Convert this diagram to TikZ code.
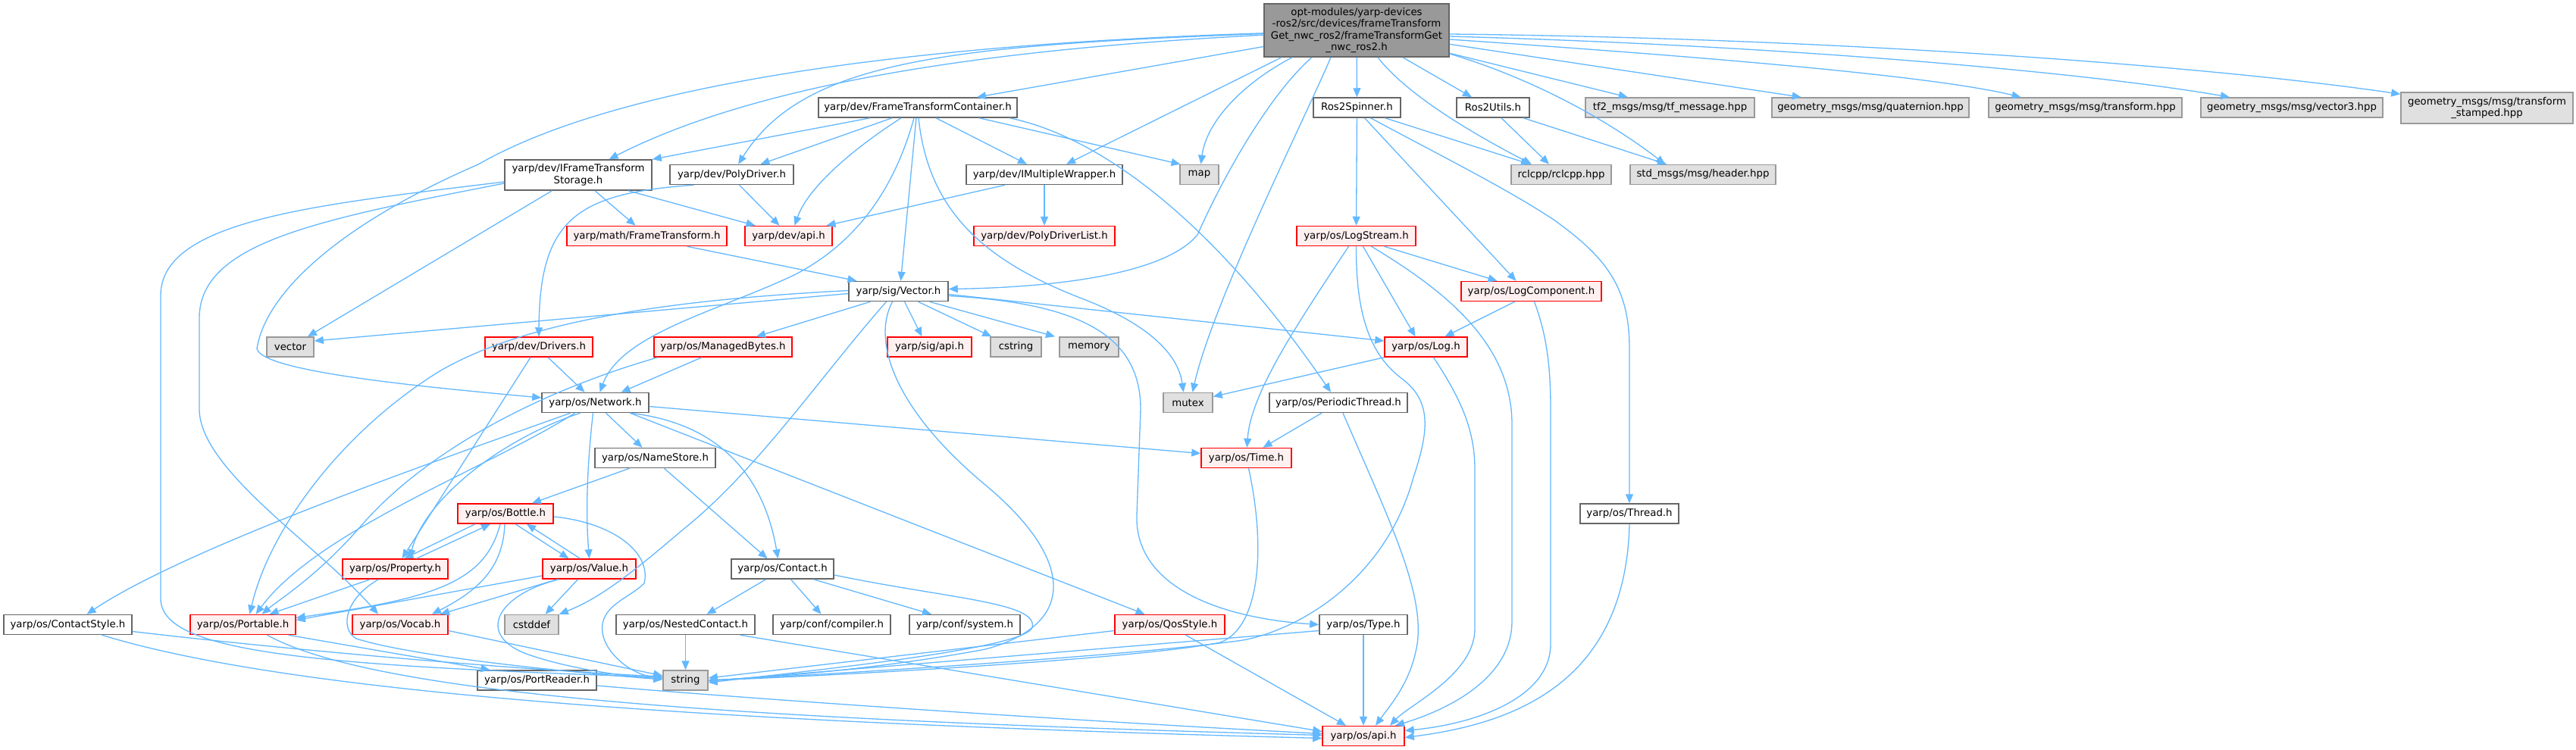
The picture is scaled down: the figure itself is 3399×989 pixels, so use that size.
\documentclass[tikz,border=0pt]{standalone}
\usepackage{fontspec}
\setmainfont{DejaVu Sans}
\usetikzlibrary{arrows.meta}
\definecolor{edgec}{HTML}{63B8FF}
\definecolor{nborder}{HTML}{666666}
\definecolor{gborder}{HTML}{999999}
\definecolor{gfill}{HTML}{E0E0E0}
\definecolor{rfill}{HTML}{FFF0F0}
\definecolor{rborder}{HTML}{FF0000}
\definecolor{mfill}{HTML}{999999}
\begin{document}
\begin{tikzpicture}[x=1pt,y=-1pt,
  nbox/.style={draw=nborder, fill=white, line width=1.5pt, inner sep=1pt, minimum height=26pt, font=\fontsize{13.3}{15.5}\selectfont, align=center, text=black},
  redbox/.style={nbox, draw=rborder, fill=rfill},
  sysbox/.style={nbox, draw=gborder, fill=gfill},
  mainbox/.style={nbox, fill=mfill},
  conn/.style={draw=edgec, line width=1.3pt, arrows={-Triangle[length=12pt,width=10pt]}},
]
\fill[white] (0,0) rectangle (3399,989);
\useasboundingbox (0,0) rectangle (3399,989);

% ---------- nodes ----------
\node[mainbox, minimum width=244pt, minimum height=70pt] (main) at (1790,40) {opt-modules/yarp-devices\\-ros2/src/devices/frameTransform\\Get\_nwc\_ros2/frameTransformGet\\\_nwc\_ros2.h};
\node[nbox, minimum width=262pt] (FTC) at (1211,142) {yarp/dev/FrameTransformContainer.h};
\node[nbox, minimum width=115pt] (R2S) at (1790.5,142) {Ros2Spinner.h};
\node[nbox, minimum width=96pt] (R2U) at (1970,142) {Ros2Utils.h};
\node[sysbox, minimum width=223pt] (tf2) at (2203.5,142) {tf2\_msgs/msg/tf\_message.hpp};
\node[sysbox, minimum width=260pt] (quat) at (2468,142) {geometry\_msgs/msg/quaternion.hpp};
\node[sysbox, minimum width=255pt] (gtr) at (2751.5,142) {geometry\_msgs/msg/transform.hpp};
\node[sysbox, minimum width=240pt] (v3) at (3024,142) {geometry\_msgs/msg/vector3.hpp};
\node[sysbox, minimum width=227pt, minimum height=41pt] (tst) at (3281.5,142.5) {geometry\_msgs/msg/transform\\\_stamped.hpp};
\node[nbox, minimum width=194pt, minimum height=40pt] (IFTS) at (763,231) {yarp/dev/IFrameTransform\\Storage.h};
\node[nbox, minimum width=163pt] (PD) at (965.5,230.5) {yarp/dev/PolyDriver.h};
\node[nbox, minimum width=206pt] (IMW) at (1378,230.5) {yarp/dev/IMultipleWrapper.h};
\node[sysbox, minimum width=51pt] (map) at (1582.5,230.5) {map};
\node[sysbox, minimum width=132pt] (rcl) at (2060,230.5) {rclcpp/rclcpp.hpp};
\node[sysbox, minimum width=192pt] (hdr) at (2247,230.5) {std\_msgs/msg/header.hpp};
\node[redbox, minimum width=211pt] (mft) at (853.5,311.5) {yarp/math/FrameTransform.h};
\node[redbox, minimum width=115pt] (dapi) at (1040.5,311.5) {yarp/dev/api.h};
\node[redbox, minimum width=186pt] (pdl) at (1378,311.5) {yarp/dev/PolyDriverList.h};
\node[redbox, minimum width=157pt] (lgs) at (1789.5,311.5) {yarp/os/LogStream.h};
\node[nbox, minimum width=131pt] (vec) at (1185.5,384.5) {yarp/sig/Vector.h};
\node[redbox, minimum width=185pt] (lgc) at (2020.5,384.5) {yarp/os/LogComponent.h};
\node[sysbox, minimum width=62pt] (stdvec) at (383,458) {vector};
\node[redbox, minimum width=142pt] (drv) at (711,458) {yarp/dev/Drivers.h};
\node[redbox, minimum width=182pt] (mb) at (954,458) {yarp/os/ManagedBytes.h};
\node[redbox, minimum width=111pt] (sapi) at (1226.5,458) {yarp/sig/api.h};
\node[sysbox, minimum width=67pt] (cstr) at (1340.5,458) {cstring};
\node[sysbox, minimum width=78pt] (mem) at (1437,458) {memory};
\node[redbox, minimum width=109pt] (log) at (1881.5,458) {yarp/os/Log.h};
\node[nbox, minimum width=141pt] (net) at (785.5,531.5) {yarp/os/Network.h};
\node[sysbox, minimum width=65pt] (mtx) at (1567.5,531.5) {mutex};
\node[nbox, minimum width=182pt] (pth) at (1766,531.5) {yarp/os/PeriodicThread.h};
\node[nbox, minimum width=159pt] (ns) at (864.5,604.5) {yarp/os/NameStore.h};
\node[redbox, minimum width=119pt] (time) at (1644.5,604.5) {yarp/os/Time.h};
\node[redbox, minimum width=126pt] (btl) at (667,678) {yarp/os/Bottle.h};
\node[nbox, minimum width=130pt] (thr) at (2150,678) {yarp/os/Thread.h};
\node[redbox, minimum width=139pt] (prop) at (521.5,751) {yarp/os/Property.h};
\node[redbox, minimum width=123pt] (val) at (777.5,751) {yarp/os/Value.h};
\node[nbox, minimum width=135pt] (ctc) at (1032.5,751) {yarp/os/Contact.h};
\node[nbox, minimum width=169pt] (cst) at (89.5,824.5) {yarp/os/ContactStyle.h};
\node[redbox, minimum width=139pt] (port) at (320.5,824.5) {yarp/os/Portable.h};
\node[redbox, minimum width=126pt] (voc) at (528,824.5) {yarp/os/Vocab.h};
\node[sysbox, minimum width=71pt] (cdf) at (701.5,824.5) {cstddef};
\node[nbox, minimum width=183pt] (nct) at (904.5,824.5) {yarp/os/NestedContact.h};
\node[nbox, minimum width=155pt] (cmp) at (1097.5,824.5) {yarp/conf/compiler.h};
\node[nbox, minimum width=146pt] (sys) at (1273,824.5) {yarp/conf/system.h};
\node[redbox, minimum width=145pt] (qos) at (1543.5,824.5) {yarp/os/QosStyle.h};
\node[nbox, minimum width=116pt] (type) at (1799,824.5) {yarp/os/Type.h};
\node[nbox, minimum width=157pt] (prd) at (708.5,898) {yarp/os/PortReader.h};
\node[sysbox, minimum width=59pt] (str) at (904.5,898) {string};
\node[redbox, minimum width=108pt] (oapi) at (1799,971.5) {yarp/os/api.h};

% ---------- edges ----------
% main
\draw[conn] (main) -- (FTC);
\draw[conn] (main) .. controls (1300,65) and (1000,110) .. (IFTS);
\draw[conn] (main) .. controls (1150,60) and (800,120) .. (631,217) .. controls (440,300) and (350,390) .. (339,460) .. controls (344,490) and (550,510) .. (net);
\draw[conn] (main) .. controls (1250,60) and (1060,80) .. (PD);
\draw[conn] ([xshift=-99pt]main.south) -- ([xshift=29pt]IMW.north);
\draw[conn] ([xshift=-85pt]main.south) .. controls (1640,110) and (1592,160) .. ([xshift=2pt]map.north);
\draw[conn] ([xshift=-59pt]main.south) .. controls (1680,120) and (1620,220) .. (1580,310) .. controls (1530,370) and (1350,380) .. ([yshift=3pt]vec.east);
\draw[conn] ([xshift=-34pt]main.south) .. controls (1720,160) and (1600,400) .. ([xshift=6pt]mtx.north);
\draw[conn] (main) -- (R2S);
\draw[conn] ([xshift=61pt]main.south) -- ([xshift=-28pt]R2U.north);
\draw[conn] ([xshift=28pt]main.south) .. controls (1860,130) and (1960,185) .. ([xshift=-39pt]rcl.north);
\draw[conn] ([yshift=-31pt]main.east) .. controls (2010,100) and (2110,150) .. ([xshift=-50pt]hdr.north);
\draw[conn] (main) -- (tf2);
\draw[conn] (main) -- (quat);
\draw[conn] ([yshift=-12pt]main.east) .. controls (2250,75) and (2550,100) .. ([xshift=-85pt]gtr.north);
\draw[conn] ([yshift=-8pt]main.east) .. controls (2350,60) and (2750,95) .. ([xshift=-82pt]v3.north);
\draw[conn] ([yshift=-5pt]main.east) .. controls (2400,50) and (2900,85) .. ([yshift=-3pt]tst.north west);
% FTC
\draw[conn] ([xshift=-63pt]FTC.south) -- (IFTS.north east);
\draw[conn] ([xshift=-34pt]FTC.south) -- ([xshift=38pt]PD.north);
\draw[conn] ([xshift=-22pt]FTC.south) .. controls (1120,200) and (1065,250) .. ([xshift=8pt]dapi.north);
\draw[conn] ([xshift=-5pt]FTC.south) .. controls (1180,250) and (1130,320) .. (1050,362) .. controls (950,410) and (820,440) .. ([xshift=6pt]net.north);
\draw[conn] ([xshift=-2pt]FTC.south) -- ([xshift=3pt]vec.north);
\draw[conn] ([xshift=1pt]FTC.south) .. controls (1225,280) and (1300,345) .. (1430,395) .. controls (1520,430) and (1555,470) .. ([xshift=-6pt]mtx.north);
\draw[conn] ([xshift=24pt]FTC.south) -- ([xshift=-23pt]IMW.north);
\draw[conn] ([xshift=81pt]FTC.south) -- ([xshift=-25pt]map.north);
\draw[conn] ([xshift=121pt]FTC.south) .. controls (1450,180) and (1600,290) .. ([xshift=-10pt]pth.north);
% IFTS
\draw[conn] (IFTS) -- (stdvec);
\draw[conn] ([xshift=22pt]IFTS.south) -- ([xshift=-15pt]mft.north);
\draw[conn] ([xshift=66pt]IFTS.south) -- ([xshift=-44pt]dapi.north);
\draw[conn] ([yshift=-9pt]IFTS.west) .. controls (420,270) and (212,290) .. (212,390) -- (212,790) .. controls (212,860) and (400,878) .. ([yshift=4pt]str.west);
\draw[conn] ([yshift=-11pt]IFTS.west) .. controls (420,290) and (263,320) .. (263,420) -- (263,540) .. controls (263,620) and (420,720) .. ([xshift=-29pt]voc.north);
% PolyDriver
\draw[conn] ([xshift=10pt]PD.south) -- ([xshift=-12pt]dapi.north);
\draw[conn] ([xshift=-50pt]PD.south) .. controls (760,255) and (712,290) .. (drv.north);
% IMultipleWrapper
\draw[conn] ([xshift=-52pt]IMW.south) -- ([xshift=50pt]dapi.north);
\draw[conn] (IMW) -- (pdl);
% math FrameTransform
\draw[conn] ([xshift=53pt]mft.south) -- ([xshift=-55pt]vec.north);
% Ros2Spinner
\draw[conn] (R2S) -- (lgs);
\draw[conn] ([xshift=10pt]R2S.south) -- ([xshift=-20pt]lgc.north);
\draw[conn] ([xshift=18pt]R2S.south) .. controls (1900,205) and (1990,250) .. (2050,290) .. controls (2120,340) and (2150,380) .. (2150,460) -- (thr);
\draw[conn] ([xshift=37pt]R2S.south) -- ([xshift=-41pt]rcl.north);
% Ros2Utils
\draw[conn] ([xshift=11pt]R2U.south) -- ([xshift=-16pt]rcl.north);
\draw[conn] ([xshift=40pt]R2U.south) -- ([xshift=-48pt]hdr.north);
% LogStream
\draw[conn] ([xshift=-10pt]lgs.south) .. controls (1710,430) and (1650,520) .. (time);
\draw[conn] (lgs.south) .. controls (1789,420) and (1810,470) .. (1850,500) .. controls (1890,530) and (1885,570) .. (1865,630) .. controls (1830,760) and (1720,830) .. (1640,845) .. controls (1500,865) and (1100,890) .. (str.east);
\draw[conn] ([xshift=9pt]lgs.south) -- ([xshift=-14pt]log.north);
\draw[conn] ([xshift=20pt]lgs.south) .. controls (1900,380) and (1995,450) .. (1995,560) -- (1995,820) .. controls (1995,900) and (1900,940) .. ([xshift=42pt]oapi.north);
\draw[conn] ([xshift=37pt]lgs.south) -- ([xshift=-45pt]lgc.north);
% LogComponent
\draw[conn] ([xshift=-22pt]lgc.south) -- ([xshift=25pt]log.north);
\draw[conn] ([xshift=4pt]lgc.south) .. controls (2040,440) and (2046,480) .. (2046,540) -- (2046,850) .. controls (2046,920) and (1950,955) .. ([yshift=7pt]oapi.east);
% Vector
\draw[conn] ([yshift=-3pt]vec.west) -- ([yshift=8pt]stdvec.east);
\draw[conn] ([xshift=-37pt]vec.south) -- ([xshift=44pt]mb.north);
\draw[conn] ([xshift=8pt]vec.south) -- ([xshift=-10pt]sapi.north);
\draw[conn] ([xshift=26pt]vec.south) -- ([xshift=2pt]cstr.north west);
\draw[conn] ([xshift=41pt]vec.south) -- ([xshift=-45pt]mem.north);
\draw[conn] ([yshift=-4pt]vec.east) -- ([yshift=8pt]log.west);
\draw[conn] ([yshift=-6pt]vec.east) .. controls (1420,400) and (1505,440) .. (1505,540) -- (1500,680) .. controls (1497,770) and (1600,815) .. (type.west);
\draw[conn] ([xshift=-8pt]vec.south) .. controls (1150,450) and (1180,540) .. (1300,640) .. controls (1420,740) and (1420,825) .. (1300,857) .. controls (1150,885) and (1000,895) .. (str.east);
\draw[conn] ([xshift=-16pt]vec.south) .. controls (1080,500) and (1000,620) .. (900,700) .. controls (830,760) and (790,790) .. (cdf.north east);
\draw[conn] ([yshift=1pt]vec.west) .. controls (900,395) and (700,420) .. (580,490) .. controls (450,570) and (355,700) .. ([xshift=9pt]port.north);
% Drivers
\draw[conn] ([xshift=12pt]drv.south) -- ([xshift=-14pt]net.north);
\draw[conn] ([xshift=-11pt]drv.south) -- ([xshift=9pt]prop.north);
% ManagedBytes
\draw[conn] ([xshift=-28pt]mb.south) -- ([xshift=34pt]net.north);
\draw[conn] ([xshift=-86pt]mb.south) .. controls (700,520) and (560,600) .. (480,690) .. controls (420,760) and (370,790) .. ([xshift=25pt]port.north);
% Log
\draw[conn] (log.south west) -- ([yshift=8pt]mtx.east);
\draw[conn] ([xshift=10pt]log.south) .. controls (1930,530) and (1946,570) .. (1946,620) -- (1946,830) .. controls (1946,890) and (1860,930) .. ([xshift=35pt]oapi.north);
% Network
\draw[conn] ([xshift=-33pt]net.south) .. controls (600,600) and (250,720) .. ([xshift=25pt]cst.north);
\draw[conn] ([xshift=-27pt]net.south) .. controls (640,620) and (420,700) .. ([xshift=17pt]port.north);
\draw[conn] ([xshift=-20pt]net.south) .. controls (660,580) and (560,660) .. ([xshift=19pt]prop.north);
\draw[conn] ([xshift=-3pt]net.south) .. controls (774,620) and (773,680) .. (val.north);
\draw[conn] ([xshift=14pt]net.south) -- ([xshift=-17pt]ns.north);
\draw[conn] ([xshift=46pt]net.south) .. controls (960,560) and (1010,640) .. ([xshift=-6pt]ctc.north);
\draw[conn] ([xshift=46pt]net.south) -- ([xshift=-33pt]qos.north);
\draw[conn] ([yshift=-5pt]net.east) -- ([yshift=6pt]time.west);
% PeriodicThread
\draw[conn] ([xshift=-22pt]pth.south) -- ([xshift=22pt]time.north);
\draw[conn] ([xshift=6pt]pth.south) .. controls (1830,680) and (1880,780) .. (1870,850) .. controls (1862,900) and (1835,930) .. ([xshift=16pt]oapi.north);
% NameStore
\draw[conn] ([xshift=-34pt]ns.south) -- ([xshift=35pt]btl.north);
\draw[conn] ([xshift=12pt]ns.south) -- ([xshift=-20pt]ctc.north);
% Time
\draw[conn] ([xshift=3pt]time.south) .. controls (1672,730) and (1660,830) .. (1610,848) .. controls (1500,870) and (1100,892) .. (str.east);
% Thread
\draw[conn] (thr.south) .. controls (2145,900) and (2000,955) .. ([yshift=-2pt]oapi.east);
% Bottle
\draw[conn] ([xshift=-40pt]btl.south) -- ([xshift=12pt]prop.north);
\draw[conn] ([xshift=13pt]btl.south) -- ([xshift=-27pt]val.north);
\draw[conn] ([xshift=-7pt]btl.south) .. controls (640,770) and (570,790) .. ([yshift=9pt]port.east);
\draw[conn] ([xshift=-1pt]btl.south) .. controls (664,750) and (630,780) .. ([xshift=42pt]voc.north);
\draw[conn] ([yshift=-4pt]btl.east) .. controls (810,690) and (860,730) .. (850,770) .. controls (830,790) and (790,800) .. (795,835) .. controls (798,860) and (830,890) .. ([yshift=3pt]str.west);
% Property
\draw[conn] ([xshift=28pt]prop.north) -- ([xshift=-20pt]btl.south);
\draw[conn] ([xshift=-33pt]prop.south) -- ([xshift=35pt]port.north);
\draw[conn] ([xshift=-22pt]prop.south) .. controls (455,790) and (448,830) .. (470,843) .. controls (550,868) and (760,888) .. ([yshift=1pt]str.west);
% Value
\draw[conn] ([xshift=-12pt]val.north) -- ([xshift=28pt]btl.south);
\draw[conn] ([yshift=-9pt]val.west) -- ([yshift=6pt]port.east);
\draw[conn] ([xshift=-42pt]val.south) -- ([xshift=53pt]voc.north);
\draw[conn] ([xshift=-15pt]val.south) -- ([xshift=18pt]cdf.north);
\draw[conn] ([xshift=-40pt]val.south) .. controls (655,785) and (625,840) .. (700,865) .. controls (760,885) and (830,893) .. ([yshift=2pt]str.west);
% Contact
\draw[conn] ([xshift=-22pt]ctc.south) -- ([xshift=28pt]nct.north);
\draw[conn] ([xshift=11pt]ctc.south) -- ([xshift=-14pt]cmp.north);
\draw[conn] ([xshift=41pt]ctc.south) -- ([xshift=-44pt]sys.north);
\draw[conn] ([yshift=-8pt]ctc.east) .. controls (1250,790) and (1370,795) .. (1362,828) .. controls (1355,855) and (1100,882) .. ([yshift=-3pt]str.east);
% ContactStyle
\draw[conn] ([yshift=-9pt]cst.east) .. controls (400,860) and (700,885) .. ([yshift=5pt]str.west);
\draw[conn] ([xshift=45pt]cst.south) .. controls (400,920) and (1000,955) .. ([yshift=-3pt]oapi.west);
% Portable
\draw[conn] ([xshift=60pt]port.south) -- ([xshift=-62pt]prd.north);
\draw[conn] ([xshift=32pt]port.south) .. controls (500,920) and (1000,950) .. ([yshift=1pt]oapi.west);
% Vocab
\draw[conn] ([yshift=-8pt]voc.east) -- ([yshift=6pt]str.west);
% NestedContact
\draw[conn] (nct) -- (str);
\draw[conn] ([xshift=72pt]nct.south) -- ([yshift=6pt]oapi.west);
% PortReader
\draw[conn] ([yshift=-7pt]prd.east) .. controls (900,915) and (1300,945) .. ([yshift=3pt]oapi.west);
% QosStyle
\draw[conn] ([yshift=-8pt]qos.west) -- ([yshift=3pt]str.east);
\draw[conn] ([xshift=21pt]qos.south) -- ([xshift=-23pt]oapi.north);
% Type
\draw[conn] ([yshift=-8pt]type.west) -- ([yshift=-1pt]str.east);
\draw[conn] (type) -- (oapi);
\end{tikzpicture}
\end{document}
